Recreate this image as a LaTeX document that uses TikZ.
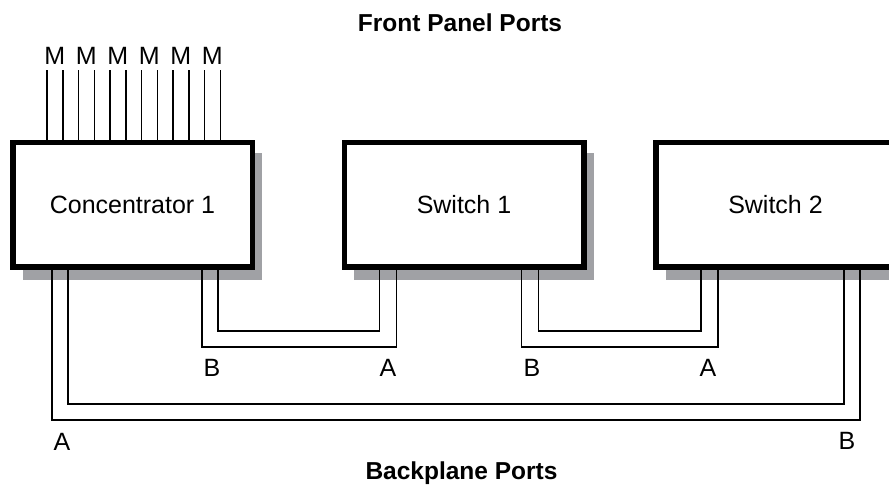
\documentclass[tikz,border=0pt]{standalone}
\usepackage{fontspec}
\setmainfont{Liberation Sans}
\usetikzlibrary{calc,backgrounds}
\definecolor{shadowgray}{RGB}{160,161,165}
\begin{document}
\begin{tikzpicture}[x=1pt,y=-1pt,
  box/.style={draw, line width=5.5pt, fill=white, minimum width=239.5pt, minimum height=124.5pt, inner sep=0pt, outer sep=0pt, font=\fontsize{25}{30}\selectfont},
  wire/.style={line width=1.5pt, line cap=butt},
  lbl/.style={font=\fontsize{25}{30}\selectfont, anchor=base, inner sep=0pt},
  titlelbl/.style={font=\bfseries\fontsize{24.5}{30}\selectfont, anchor=base, inner sep=0pt},
  shadowbox/.style={fill=shadowgray}]
\useasboundingbox (0,0) rectangle (889,486);
\clip (0,0) rectangle (889,486);

% boxes
\node[box] (c)  at (132.5,205) {Concentrator 1};
\node[box] (s1) at (464,205) {Switch 1};
\node[box] (s2) at (775.5,205) {Switch 2};

% shadows
\begin{pgfonlayer}{background}
\foreach \b in {c,s1,s2}
  \fill[shadowbox] ($(\b.north west)+(10,10)$) rectangle ($(\b.south east)+(10,12.5)$);
\end{pgfonlayer}

% titles
\node[titlelbl] (front) at (460,32) {Front Panel Ports};
\node[titlelbl] (back) at (461.5,479) {Backplane Ports};

% front panel M ports
\foreach \k in {0,...,11}
  \draw[wire] ($(c.north west)+(34.25+15.75*\k,0)$) coordinate (m\k) -- ++(0,-72.75);
\foreach \k in {0,...,5}
  \node[lbl] (ml\k) at (54.9+31.5*\k,65) {M};

% port coordinates
\path (c.south west) ++(39.25,0) coordinate (cAo);
\path (c.south west) ++(55.25,0) coordinate (cAi);
\path (c.south west) ++(189.25,0) coordinate (cBo);
\path (c.south west) ++(205.25,0) coordinate (cBi);
\path (s1.south west) ++(35.25,0) coordinate (s1Ai);
\path (s1.south west) ++(52.25,0) coordinate (s1Ao);
\path (s1.south west) ++(177.25,0) coordinate (s1Bo);
\path (s1.south west) ++(194.25,0) coordinate (s1Bi);
\path (s2.south west) ++(45.25,0) coordinate (s2Ai);
\path (s2.south west) ++(62.25,0) coordinate (s2Ao);
\path (s2.south west) ++(188.25,0) coordinate (s2Bi);
\path (s2.south west) ++(204.25,0) coordinate (s2Bo);

% backplane connectors
\draw[wire] (cBi) -- ++(0,63.75) -| (s1Ai);
\draw[wire] (cBo) -- ++(0,79.75) -| (s1Ao);
\draw[wire] (s1Bi) -- ++(0,63.75) -| (s2Ai);
\draw[wire] (s1Bo) -- ++(0,79.75) -| (s2Ao);
\draw[wire] (cAi) -- ++(0,136.75) -| (s2Bi);
\draw[wire] (cAo) -- ++(0,152.75) -| (s2Bo);

% port labels
\node[lbl] (lcB) at (212,377) {B};
\node[lbl] (ls1A) at (388,377) {A};
\node[lbl] (ls1B) at (532,377) {B};
\node[lbl] (ls2A) at (708,377) {A};
\node[lbl] (lcA) at (62,450) {A};
\node[lbl] (ls2B) at (847,449) {B};
\end{tikzpicture}
\end{document}
